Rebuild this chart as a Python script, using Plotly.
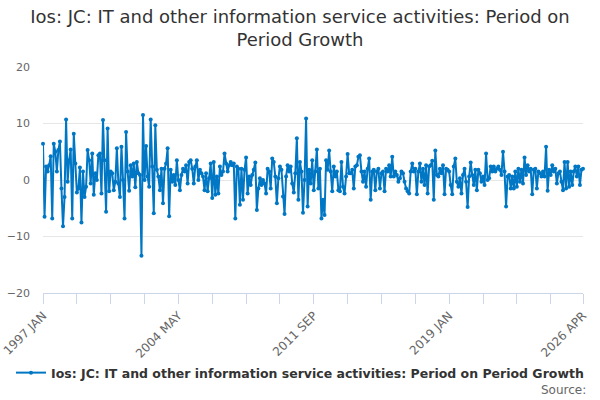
import pandas as pd
import plotly.graph_objects as go

# monthly period-on-period growth (%), 1997 JAN .. 2026 APR
growth_1997_1999 = [6.4, -6.5, 2.4, 1.5, 2.6, 4.2, -6.8, 6.4, 5.0, 1.5, 5.3, 6.8,
                    -1.5, -8.2, -3.0, 10.7, -0.3, 3.5, 5.4, -6.8, 8.2, 2.9, -2.2, -1.5,
                    2.2, -7.5, 1.5, -3.0, -1.2, 5.3, 3.5, -0.6, 4.7, -2.6, 1.2, 0.0, 4.4]
growth_2000_2002 = [4.7, -2.4, 10.6, 3.5, -5.6, 9.1, -2.0, 1.5, 1.2, -1.8, -0.3, 5.6,
                    -0.6, -3.0, 5.9, 0.0, -6.8, 8.5, 1.5, -1.9, 2.6, 0.6, 2.9, -1.3,
                    3.2, 1.2, 0.9]
growth_2002_2003 = [-13.4, 11.5, 0.0, 6.0, 0.6, -1.2, 10.7, 2.4, -5.9]
growth_2003_2006 = [9.7, 1.8, 0.6, -1.8, 2.0, -4.1, 2.0, 2.9, 5.6, -6.4, 1.8, -0.3,
                    0.9, -0.9, 3.5, 0.0, -1.8, 0.9, 2.0, 1.5, 2.6, -0.6, 3.2, 3.5,
                    2.0, -0.6, 2.4, 3.5, 0.0, 1.8, 1.2, 0.6, -1.8, 1.2, -2.0, 0.3, 2.9,
                    -3.2, 3.2, -2.6]
growth_2006_2011 = [0.6, -2.4, 2.4, 0.9, 1.5, 4.7, 2.9, 1.5, 2.6, 3.2, 2.6, 2.9,
                    -6.8, 2.4, 2.0, -4.4, 2.0, -3.5, 1.8, 4.0, -2.4, 0.6, -0.9, 0.9,
                    1.8, 3.1, -5.3, -1.5, 0.3, -0.9, 0.0, -0.6, -2.4, 2.0, 1.5, -1.5,
                    3.8, 3.2, 0.6, -4.1, 0.3, 2.4, 1.8, -2.9, -6.0, 0.6, 2.6, 1.5,
                    2.4, -0.6, -2.2, 1.2, 7.4, -3.5, 3.2, 1.5, -5.8, 0.0, 10.9, -4.7]
growth_2011_2016 = [1.8, -0.6, 3.5, -1.8, 1.5, 5.4, -1.5, 2.0, -6.8, -3.5, -6.2, 3.5,
                    1.8, 5.2, 1.5, -2.0, 2.4, 0.6, 1.5, -1.8, -2.0, 3.2, -1.2, -2.4,
                    0.6, 4.6, 1.2, 1.2, 1.8, -1.5, 2.4, 2.6, 4.1, 4.4, 1.5, -0.3,
                    1.5, -1.2, 2.0, 3.8, -3.5, 1.5, 1.8, -1.8, 1.5, 2.0, -1.5, 1.2,
                    1.5, -2.0, 2.0, 1.5, 2.6, 0.6, 4.1, 0.6, 1.5, 0.9, -0.3, 0.3]
growth_2016_2021 = [1.5, 1.2, -0.3, -1.5, -2.0, -2.4, 1.5, 2.9, 1.5, 2.0, -2.5, 1.5,
                    2.9, -0.3, 2.0, -0.9, 2.6, -2.4, 2.4, 2.6, 3.4, -3.5, 5.2, 0.9,
                    0.6, 2.0, 1.2, 2.6, -2.5, 2.0, 1.8, 1.5, -0.9, -2.5, 2.4, 3.8,
                    -0.3, -1.2, 0.3, -2.4, 0.9, 2.0, -0.3, -4.8, 0.6, 3.1, 0.9, -0.9,
                    1.8, -1.8, 1.8, 1.2, -0.3, 0.6, -0.9, 4.7, 0.0, 0.3, 2.4, 1.5]
growth_2021_2026 = [2.4, 1.5, 2.0, 2.4, 1.8, 0.9, 5.0, 1.5, -4.7, 0.6, 0.9, -1.5,
                    0.6, -1.5, 1.5, -1.2, 2.0, -0.3, 1.8, -0.6, 4.0, 0.9, 2.6, 1.5,
                    2.0, -2.5, 1.8, 2.0, -1.5, 1.5, 1.2, 0.6, 1.5, 0.6, 5.9, -1.9,
                    1.8, 0.9, 2.6, 1.5, 2.0, -0.6, 1.2, 1.5, -0.3, -1.8, 3.2, -1.5,
                    3.2, -1.2, 1.5, -0.9, 1.5, 2.4, 0.6, 2.4, -0.9, 1.8, 2.0]

growth = (growth_1997_1999 + growth_2000_2002 + growth_2002_2003 + growth_2003_2006
          + growth_2006_2011 + growth_2011_2016 + growth_2016_2021 + growth_2021_2026)

months = pd.date_range("1997-01-01", periods=len(growth), freq="MS")
labels = [d.strftime("%Y %b").upper() for d in months]
idx = list(range(len(growth)))
n = len(growth) - 1

# a tick every 22 months, every 4th one labelled; last tick on the final month
tick_pos = [min(i * 22, n) for i in range(17)]
tick_txt = [labels[p] if i % 4 == 0 else "" for i, p in enumerate(tick_pos)]

series_name = "Ios: JC: IT and other information service activities: Period on Period Growth"

fig = go.Figure()
fig.add_trace(go.Scatter(
    x=idx, y=growth, mode="lines+markers", name=series_name,
    text=labels, hovertemplate="%{text}: %{y}<extra></extra>",
    line=dict(color="#0077c4", width=2),
    marker=dict(color="#0077c4", size=4),
    cliponaxis=False,
))

fig.update_layout(
    width=600, height=400,
    margin=dict(l=43, r=17, t=67, b=107),
    paper_bgcolor="white", plot_bgcolor="white",
    font=dict(family="DejaVu Sans", color="#666666", size=11),
    title=dict(
        text="Ios: JC: IT and other information service activities: Period on<br>Period Growth",
        x=0.5, xanchor="center", y=0.9425, yanchor="top",
        font=dict(size=18, color="#333333"),
    ),
    showlegend=True,
    legend=dict(
        orientation="h", x=0.5, xanchor="center", xref="container",
        y=0.0675, yanchor="middle", yref="container", itemwidth=30,
        font=dict(size=12.5, color="#333333", weight="bold"),
    ),
    xaxis=dict(
        range=[0, n], tickvals=tick_pos, ticktext=tick_txt,
        tickangle=-45, ticks="outside", ticklen=10, tickcolor="#ccd6eb",
        tickfont=dict(size=12), ticklabeloverflow="allow",
        showline=True, linecolor="#ccd6eb", showgrid=False, zeroline=False,
        automargin=False,
    ),
    yaxis=dict(
        range=[-20, 20], dtick=10, showgrid=True, gridcolor="#e6e6e6",
        zeroline=False, showline=False, ticklabelstandoff=12,
        ticklabeloverflow="allow", automargin=False,
    ),
    annotations=[dict(
        text="Source:", xref="paper", yref="paper", x=1.009, y=-0.429,
        xanchor="right", yanchor="middle", showarrow=False,
        font=dict(size=12, color="#666666"),
    )],
)

assert len(growth) == 352, len(growth)
# drop the default page margin so the 600x400 figure fills the window
fig.write_html("out.html", config={"displayModeBar": False},
               post_script="document.body.style.margin = '0px';")
